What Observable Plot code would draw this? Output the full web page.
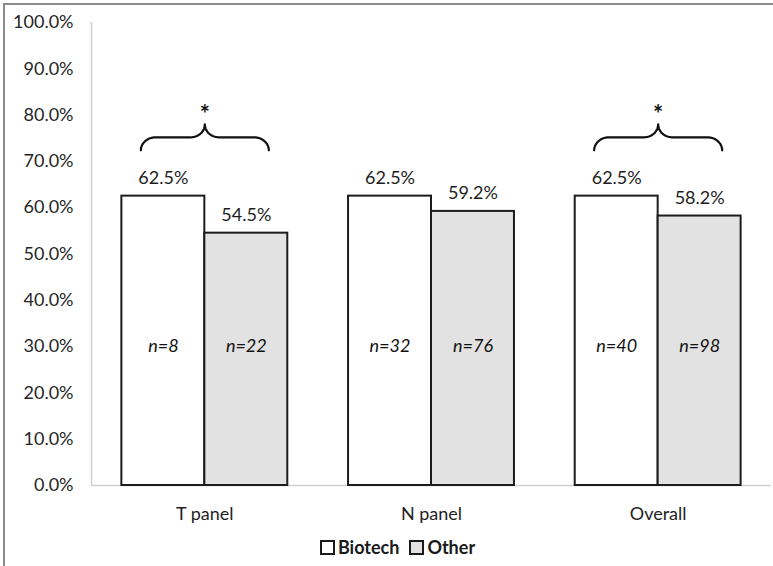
<!DOCTYPE html>
<html>
<head>
<meta charset="utf-8">
<script src="https://cdn.jsdelivr.net/npm/d3@7"></script>
<script src="https://cdn.jsdelivr.net/npm/@observablehq/plot@0.6"></script>
<style>
  html, body { margin: 0; padding: 0; background: #fff; }
  #wrap { position: relative; width: 773px; height: 566px; overflow: hidden; font-family: Lato, "Open Sans", sans-serif; }
  #frame { position: absolute; left: 3px; top: 3px; right: -5px; bottom: -5px; border-left: 2px solid #8c8c8c; border-top: 2px solid #8c8c8c; pointer-events: none; }
  #legend { position: absolute; left: 0; width: 773px; top: 536px; display: flex; justify-content: center; align-items: center; gap: 10px; font-weight: bold; font-size: 18px; color: #1a1a1a; padding-left: 22px; box-sizing: border-box; }
  .item { display: flex; align-items: center; gap: 3px; }
  .sw { width: 11px; height: 11px; border: 2px solid #1a1a1a; }
</style>
</head>
<body>
<div id="wrap">
  <div id="chart"></div>
  <div id="legend"></div>
  <div id="frame"></div>
</div>
<script>
const groups = ["T panel", "N panel", "Overall"];
const series = ["Biotech", "Other"];
const biotechPct = [62.5, 62.5, 62.5];
const otherPct = [54.5, 59.2, 58.2];
const biotechN = [8, 32, 40];
const otherN = [22, 76, 98];
const significant = [true, false, true];
const yTicks = [0, 10, 20, 30, 40, 50, 60, 70, 80, 90, 100];

const fills = {Biotech: "#ffffff", Other: "#e2e2e2"};
const half = 0.366; // bar width in group units

const rows = [];
groups.forEach((g, i) => {
  const c = i + 0.5;
  rows.push({group: g, series: "Biotech", value: biotechPct[i], n: biotechN[i], x1: c - half, x2: c});
  rows.push({group: g, series: "Other", value: otherPct[i], n: otherN[i], x1: c, x2: c + half});
});

// Curly braces above significant groups (shape in group / percent units)
const pxX = 1 / 226.7, pxY = 1 / 4.63;
const braces = [];
const stars = [];
groups.forEach((g, i) => {
  if (!significant[i]) return;
  const c = i + 0.5;
  const top = Math.max(biotechPct[i], otherPct[i]);
  const base = top + 9.9;
  const ry = 13 * pxY;
  const flat = base + ry, tip = flat + ry;
  const N = 14;
  const left = [];
  for (let k = 0; k <= N; k++) {
    const t = Math.PI - (Math.PI / 2) * k / N;
    left.push({x: c + (-49 + 15 * Math.cos(t)) * pxX, y: base + ry * Math.sin(t), g});
  }
  for (let k = 0; k <= N; k++) {
    const t = -Math.PI / 2 + (Math.PI / 2) * k / N;
    left.push({x: c + (-14 + 14 * Math.cos(t)) * pxX, y: tip + ry * Math.sin(t), g});
  }
  const right = left.slice().reverse().map(p => ({x: 2 * c - p.x, y: p.y, g}));
  braces.push(...left, ...right);
  stars.push({x: c, y: tip + 1.9, g});
});

const chart = Plot.plot({
  width: 773,
  height: 530,
  marginLeft: 91,
  marginRight: 2,
  marginTop: 22,
  marginBottom: 45,
  style: {fontFamily: "Lato, 'Open Sans', sans-serif", fontSize: "18px", color: "#262626", background: "transparent"},
  x: {domain: [0, 3], axis: null},
  y: {domain: [0, 100], axis: null},
  marks: [
    Plot.ruleX([0], {stroke: "#d0d0d0", strokeWidth: 1.5}),
    Plot.axisY({ticks: yTicks, tickSize: 0, tickPadding: 18, tickFormat: d => d.toFixed(1) + "%", fontSize: 18, fill: "#262626"}),
    Plot.axisX({ticks: groups.map((g, i) => i + 0.5), tickSize: 0, tickPadding: 22, tickFormat: d => groups[Math.floor(d)], fontSize: 18, fill: "#1e1e1e"}),
    Plot.ruleY([0], {stroke: "#d0d0d0", strokeWidth: 1.5}),
    Plot.rectY(rows, {x1: "x1", x2: "x2", y1: d => 0, y2: "value", fill: d => fills[d.series], stroke: "#1c1c1c", strokeWidth: 2}),
    Plot.text(rows, {x: d => (d.x1 + d.x2) / 2, y: "value", text: d => d.value.toFixed(1) + "%", dy: -18, fontSize: 18, fill: "#1e1e1e"}),
    Plot.text(rows, {x: d => (d.x1 + d.x2) / 2, y: d => 30, text: d => "n=" + d.n, fontStyle: "italic", fontSize: 18, fill: "#111"}),
    Plot.line(braces, {x: "x", y: "y", z: "g", stroke: "#111", strokeWidth: 2.2, curve: "linear"}),
    Plot.text(stars, {x: "x", y: "y", text: d => "*", fontWeight: "bold", fontSize: 24, fill: "#111"})
  ]
});
document.getElementById("chart").appendChild(chart);

const legend = document.getElementById("legend");
series.forEach(s => {
  const item = document.createElement("div");
  item.className = "item";
  const sw = document.createElement("span");
  sw.className = "sw";
  sw.style.background = fills[s];
  const lab = document.createElement("span");
  lab.textContent = s;
  item.appendChild(sw);
  item.appendChild(lab);
  legend.appendChild(item);
});
</script>
</body>
</html>
